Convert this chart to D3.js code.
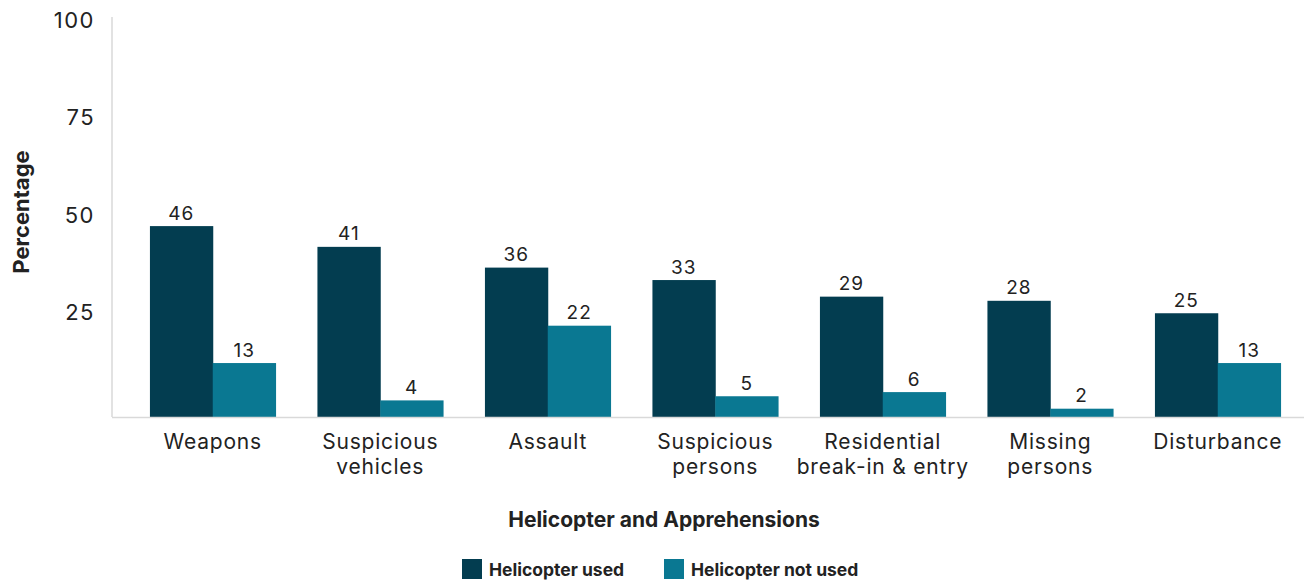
<!DOCTYPE html>
<html><head><meta charset="utf-8">
<script src="https://cdn.jsdelivr.net/npm/d3@7"></script>
<style>body{margin:0;background:#fff}text{font-family:Inter,"Noto Sans",sans-serif}</style>
</head><body><svg id="c" width="1304" height="581"></svg>
<script>
const categories = [["Weapons"],["Suspicious","vehicles"],["Assault"],["Suspicious","persons"],["Residential","break-in & entry"],["Missing","persons"],["Disturbance"]];
const seriesNames = ["Helicopter used","Helicopter not used"];
const used = [46,41,36,33,29,28,25];
const notUsed = [13,4,22,5,6,2,13];
const yTicks = [25,50,75,100];
const colors = ["#033d50","#0a7892"];

const svg = d3.select("#c");
const x = d3.scaleBand().domain(d3.range(categories.length)).range([129,1301.5]).paddingInner(0.25).paddingOuter(0.125);
const xs = d3.scaleBand().domain([0,1]).range([0,x.bandwidth()]);
const y = d3.scaleLinear().domain([0,100]).range([417,2]);
const yTick = d3.scaleLinear().domain([0,100]).range([410,20]);

svg.append("line").attr("x1",112).attr("x2",112).attr("y1",17).attr("y2",417).attr("stroke","#d9d9d9").attr("stroke-width",1.5);

const series = [used, notUsed];
series.forEach((vals,si)=>{
  svg.append("g").selectAll("rect").data(vals).join("rect")
    .attr("x",(d,i)=>x(i)+xs(si)).attr("width",xs.bandwidth()+0.5)
    .attr("y",d=>y(d)).attr("height",d=>y(0)-y(d)).attr("fill",colors[si]);
  svg.append("g").selectAll("text").data(vals).join("text")
    .attr("x",(d,i)=>x(i)+xs(si)+xs.bandwidth()/2).attr("y",d=>y(d)-6.5)
    .attr("text-anchor","middle").attr("font-size",19).attr("letter-spacing",1).attr("fill","#222").text(d=>d);
});
svg.append("line").attr("x1",112).attr("x2",1304).attr("y1",417.5).attr("y2",417.5).attr("stroke","#d9d9d9").attr("stroke-width",1.5);

svg.append("g").selectAll("text").data(yTicks).join("text")
  .attr("x",95).attr("y",d=>yTick(d)).attr("dy","0.35em").attr("text-anchor","end")
  .attr("font-size",22).attr("letter-spacing",1.5).attr("fill","#222").text(d=>d);

const cl = svg.append("g").selectAll("text").data(categories).join("text")
  .attr("text-anchor","middle").attr("font-size",21).attr("letter-spacing",0.8).attr("fill","#222");
cl.each(function(lines,i){
  d3.select(this).selectAll("tspan").data(lines).join("tspan")
    .attr("x",x(i)+x.bandwidth()/2).attr("y",(l,j)=>448.5+j*25.6).text(l=>l);
});

svg.append("text").attr("transform","translate(29,212) rotate(-90)").attr("text-anchor","middle")
  .attr("font-size",22).attr("font-weight","bold").attr("fill","#222").text("Percentage");
svg.append("text").attr("x",664).attr("y",527).attr("text-anchor","middle")
  .attr("font-size",21).attr("font-weight","bold").attr("fill","#222").text("Helicopter and Apprehensions");

const legX = [462,664];
seriesNames.forEach((n,i)=>{
  svg.append("rect").attr("x",legX[i]).attr("y",559).attr("width",20).attr("height",20).attr("fill",colors[i]);
  svg.append("text").attr("x",legX[i]+27).attr("y",575.5).attr("font-size",17.5).attr("font-weight","bold").attr("fill","#222").text(n);
});
</script></body></html>
